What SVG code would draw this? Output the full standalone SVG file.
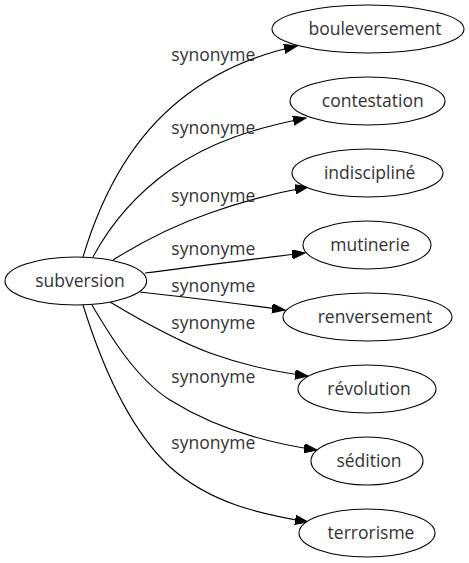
<svg xmlns="http://www.w3.org/2000/svg" width="469" height="563" viewBox="0 0 469 563">
<defs>
<style>
.node ellipse{fill:#fff;stroke:#000;stroke-width:1.1}
.node text{font-family:"Open Sans","DejaVu Sans",sans-serif;font-size:17.5px;fill:#333;text-anchor:middle}
.edge path{fill:none;stroke:#000;stroke-width:1.1}
.lbl{font-family:"Open Sans","DejaVu Sans",sans-serif;font-size:17.5px;fill:#333;text-anchor:middle}
</style>
<marker id="arr" markerUnits="userSpaceOnUse" markerWidth="14" markerHeight="10" refX="13" refY="4.7" orient="auto">
<path d="M0,0 L13,4.7 L0,9.4 Z" fill="#000" stroke="#000" stroke-width="1"/>
</marker>
</defs>
<rect width="469" height="563" fill="#fff"/>
<g id="edges" class="edge">
<path d="M83,257 C100,200 130,140 180,100 C215,72 255,55 297,46" marker-end="url(#arr)"/>
<path d="M93,257 C110,225 135,195 170,170 C210,142 255,128 306,118" marker-end="url(#arr)"/>
<path d="M113,260 C140,243 175,225 210,213 C243,201 275,193 308,187" marker-end="url(#arr)"/>
<path d="M145,273 C200,266 260,258 305,253" marker-end="url(#arr)"/>
<path d="M140,292 C185,297 240,304 285,310" marker-end="url(#arr)"/>
<path d="M110,302 C140,320 175,340 210,353 C243,365 275,372 308,376" marker-end="url(#arr)"/>
<path d="M92,305 C108,332 135,378 170,400 C210,425 260,442 317,450" marker-end="url(#arr)"/>
<path d="M83,305 C97,350 125,425 170,467 C210,503 260,514 308,522" marker-end="url(#arr)"/>
<text class="lbl" x="213.3" y="60.5">synonyme</text>
<text class="lbl" x="213.3" y="134.3">synonyme</text>
<text class="lbl" x="213.3" y="202.3">synonyme</text>
<text class="lbl" x="213.3" y="255">synonyme</text>
<text class="lbl" x="213.3" y="292">synonyme</text>
<text class="lbl" x="213.3" y="329.3">synonyme</text>
<text class="lbl" x="213.3" y="382.7">synonyme</text>
<text class="lbl" x="213.3" y="449.3">synonyme</text>
</g>
<g id="subversion" class="node"><ellipse cx="75.8" cy="281" rx="70.8" ry="24"/><text x="80" y="286.5">subversion</text></g>
<g id="bouleversement" class="node"><ellipse cx="368" cy="29" rx="96" ry="24"/><text x="375" y="34.5">bouleversement</text></g>
<g id="contestation" class="node"><ellipse cx="367.5" cy="101" rx="77.5" ry="24"/><text x="372.8" y="106.5">contestation</text></g>
<g id="indiscipline" class="node"><ellipse cx="367.5" cy="173" rx="75.5" ry="24"/><text x="369.7" y="178.5">indiscipliné</text></g>
<g id="mutinerie" class="node"><ellipse cx="367" cy="245" rx="64" ry="24"/><text x="370" y="250.5">mutinerie</text></g>
<g id="renversement" class="node"><ellipse cx="367.5" cy="317" rx="84.5" ry="24"/><text x="375" y="322.5">renversement</text></g>
<g id="revolution" class="node"><ellipse cx="367" cy="389" rx="69" ry="24"/><text x="369" y="394.5">révolution</text></g>
<g id="sedition" class="node"><ellipse cx="367" cy="461" rx="56" ry="24"/><text x="369" y="466.5">sédition</text></g>
<g id="terrorisme" class="node"><ellipse cx="367" cy="533" rx="68" ry="24"/><text x="371" y="538.5">terrorisme</text></g>
</svg>
